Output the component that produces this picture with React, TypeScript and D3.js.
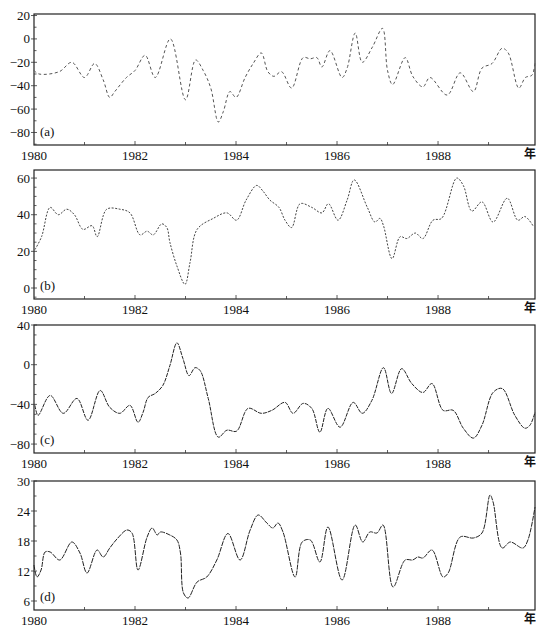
import * as d3 from 'd3';
import { useEffect, useRef } from 'react';

const W = 536;
const H = 627;
const SERIF = "'Liberation Serif', 'DejaVu Serif', serif";

const yearTicks = [1980, 1982, 1984, 1986, 1988];
const minorYears = [1981, 1983, 1985, 1987, 1989];

// (a)
const yearsA = [1980.0, 1980.1, 1980.5, 1980.75, 1981.0, 1981.2, 1981.37, 1981.5, 1981.6, 1981.83, 1982.0, 1982.2, 1982.4, 1982.7, 1983.0, 1983.2, 1983.35, 1983.5, 1983.65, 1983.75, 1983.88, 1984.0, 1984.18, 1984.34, 1984.5, 1984.63, 1984.75, 1984.9, 1985.1, 1985.33, 1985.47, 1985.6, 1985.7, 1985.86, 1986.1, 1986.2, 1986.36, 1986.5, 1986.7, 1986.9, 1987.0, 1987.1, 1987.35, 1987.5, 1987.7, 1987.84, 1988.18, 1988.44, 1988.7, 1988.87, 1989.07, 1989.27, 1989.39, 1989.6, 1989.73, 1989.86, 1989.92];
const valuesA = [-27, -30, -28, -20, -33, -21, -35, -50, -45, -33, -27, -14, -33, 0, -52, -18, -27, -42, -71, -62, -45, -50, -33, -21, -12, -28, -32, -28, -42, -16, -17, -16, -24, -10, -33, -25, 5, -20, -7, 9, -27, -39, -16, -32, -41, -33, -48, -29, -45, -25, -21, -8, -12, -42, -33, -31, -20];
const ticksA = [20, 0, -20, -40, -60, -80];

// (b)
const yearsB = [1980.02, 1980.15, 1980.32, 1980.48, 1980.65, 1980.8, 1980.97, 1981.15, 1981.25, 1981.44, 1981.7, 1981.9, 1982.1, 1982.24, 1982.36, 1982.53, 1982.63, 1982.69, 1982.83, 1982.99, 1983.09, 1983.23, 1983.55, 1983.82, 1984.01, 1984.2, 1984.41, 1984.53, 1984.67, 1984.85, 1984.97, 1985.1, 1985.27, 1985.5, 1985.7, 1985.83, 1986.02, 1986.2, 1986.34, 1986.6, 1986.75, 1986.85, 1986.92, 1987.09, 1987.25, 1987.38, 1987.55, 1987.7, 1987.9, 1988.07, 1988.37, 1988.5, 1988.67, 1988.87, 1989.09, 1989.37, 1989.58, 1989.72, 1989.88];
const valuesB = [21, 28, 44, 40, 43, 40, 32, 34, 28, 43, 43, 41, 29, 31, 29, 35, 33, 25, 12, 2, 14, 32, 38, 41, 37, 48, 56, 53, 48, 44, 37, 33, 46, 44, 41, 46, 37, 48, 59, 44, 36, 38, 34, 16, 28, 27, 30, 27, 37, 38, 60, 56, 42, 47, 36, 49, 37, 39, 34];
const ticksB = [60, 40, 20, 0];

// (c)
const yearsC = [1980.02, 1980.08, 1980.32, 1980.58, 1980.85, 1981.07, 1981.31, 1981.5, 1981.7, 1981.9, 1982.06, 1982.16, 1982.26, 1982.4, 1982.55, 1982.69, 1982.83, 1982.95, 1983.07, 1983.19, 1983.29, 1983.45, 1983.65, 1983.82, 1984.01, 1984.24, 1984.5, 1984.71, 1984.97, 1985.13, 1985.33, 1985.5, 1985.66, 1985.82, 1986.06, 1986.32, 1986.5, 1986.69, 1986.92, 1987.08, 1987.28, 1987.48, 1987.7, 1987.88, 1988.1, 1988.3, 1988.5, 1988.7, 1988.87, 1989.09, 1989.27, 1989.52, 1989.72, 1989.82, 1989.92];
const valuesC = [-41, -51, -31, -49, -34, -56, -26, -43, -49, -41, -58, -48, -33, -29, -21, -1, 22, 6, -11, -3, -6, -34, -73, -66, -67, -44, -49, -46, -38, -49, -39, -44, -68, -44, -63, -38, -49, -36, -3, -29, -4, -19, -28, -19, -46, -46, -64, -74, -61, -28, -24, -51, -64, -61, -48];
const ticksC = [40, 0, -40, -80];

// (d)
const yearsD = [1980.0, 1980.06, 1980.14, 1980.22, 1980.32, 1980.51, 1980.75, 1980.91, 1981.05, 1981.25, 1981.37, 1981.5, 1981.66, 1981.84, 1981.94, 1982.06, 1982.24, 1982.34, 1982.44, 1982.5, 1982.69, 1982.83, 1982.9, 1982.96, 1983.05, 1983.23, 1983.42, 1983.62, 1983.84, 1984.08, 1984.28, 1984.44, 1984.61, 1984.73, 1984.83, 1984.93, 1985.17, 1985.31, 1985.47, 1985.66, 1985.82, 1986.1, 1986.36, 1986.51, 1986.65, 1986.79, 1986.91, 1987.11, 1987.35, 1987.5, 1987.6, 1987.7, 1987.88, 1988.1, 1988.2, 1988.44, 1988.7, 1988.87, 1989.03, 1989.09, 1989.27, 1989.43, 1989.68, 1989.78, 1989.92];
const valuesD = [13.2, 10.8, 12.2, 15.8, 15.8, 14.2, 17.8, 15.6, 11.6, 16.2, 14.8, 16.6, 18.6, 20.2, 19.6, 12.2, 18.8, 20.6, 19.2, 19.8, 19.2, 18.2, 15.6, 7.6, 6.6, 9.8, 10.8, 14.2, 19.5, 14.2, 20.2, 23.2, 21.6, 20.6, 21.6, 19.8, 10.8, 17.8, 18.2, 13.8, 20.8, 10.2, 21.2, 17.8, 19.8, 19.6, 21.2, 8.8, 14.2, 14.2, 14.8, 14.6, 16.2, 10.8, 11.6, 18.8, 18.6, 19.6, 27.2, 25.8, 16.6, 17.8, 16.6, 18.2, 24.8];
const ticksD = [30, 24, 18, 12, 6];

const panelLabels = ['(a)', '(b)', '(c)', '(d)'];

const App = () => {
  const ref = useRef(null);

  useEffect(() => {
    const svg = d3.select(ref.current);
    svg.selectAll('*').remove();

    const left = 34;
    const right = 535;
    const x = d3.scaleLinear().domain([1980, 1989.92]).range([left, right]);

    const panels = [
      { years: yearsA, values: valuesA, ticks: ticksA, minor: 10, domain: [-90.7, 21.3], top: 14, bottom: 145, dash: '3,2.5', color: '#555' },
      { years: yearsB, values: valuesB, ticks: ticksB, minor: 5, domain: [-6, 64.4], top: 170, bottom: 299, dash: '2,1.5', color: '#444' },
      { years: yearsC, values: valuesC, ticks: ticksC, minor: 10, domain: [-89, 40], top: 325, bottom: 453, dash: '4,1', color: '#222' },
      { years: yearsD, values: valuesD, ticks: ticksD, minor: 3, domain: [4.2, 30], top: 481, bottom: 610, dash: '5,1', color: '#222' },
    ];

    panels.forEach((p, i) => {
      const y = d3.scaleLinear().domain(p.domain).range([p.bottom, p.top]);
      const g = svg.append('g');

      // frame
      g.append('rect')
        .attr('x', left)
        .attr('y', p.top)
        .attr('width', right - left)
        .attr('height', p.bottom - p.top)
        .attr('fill', 'none')
        .attr('stroke', '#222')
        .attr('stroke-width', 1.2);

      // y axis ticks
      const yMinor = d3.range(Math.ceil(p.domain[0]), Math.floor(p.domain[1]) + 1)
        .filter(v => v % p.minor === 0 && !p.ticks.includes(v));
      g.selectAll('.ymin').data(yMinor).enter().append('line')
        .attr('x1', left).attr('x2', left + 2.5)
        .attr('y1', d => y(d)).attr('y2', d => y(d))
        .attr('stroke', '#333').attr('stroke-width', 0.8);
      g.selectAll('.ymaj').data(p.ticks).enter().append('line')
        .attr('x1', left - 3).attr('x2', left + 3)
        .attr('y1', d => y(d)).attr('y2', d => y(d))
        .attr('stroke', '#333').attr('stroke-width', 0.8);
      g.selectAll('.ylab').data(p.ticks).enter().append('text')
        .attr('x', left - 4)
        .attr('y', d => y(d))
        .attr('dy', '0.35em')
        .attr('text-anchor', 'end')
        .style('font-family', SERIF)
        .style('font-size', '13px')
        .attr('fill', '#111')
        .text(d => (d < 0 ? '\u2212' + Math.abs(d) : String(d)));

      // x axis ticks
      g.selectAll('.xmaj').data(yearTicks.slice(1)).enter().append('line')
        .attr('x1', d => x(d)).attr('x2', d => x(d))
        .attr('y1', p.bottom).attr('y2', p.bottom - 4)
        .attr('stroke', '#333').attr('stroke-width', 0.8);
      g.selectAll('.xmin').data(minorYears).enter().append('line')
        .attr('x1', d => x(d)).attr('x2', d => x(d))
        .attr('y1', p.bottom).attr('y2', p.bottom - 3)
        .attr('stroke', '#333').attr('stroke-width', 0.8);
      g.selectAll('.xlab').data(yearTicks).enter().append('text')
        .attr('x', d => x(d))
        .attr('y', p.bottom + 15)
        .attr('text-anchor', 'middle')
        .style('font-family', SERIF)
        .style('font-size', '13px')
        .attr('fill', '#111')
        .text(d => d);
      g.append('text')
        .attr('x', 530)
        .attr('y', p.bottom + 13)
        .attr('text-anchor', 'middle')
        .style('font-family', "'Noto Sans CJK SC', sans-serif")
        .style('font-size', '12px')
        .style('font-weight', 'bold')
        .attr('fill', '#111')
        .text('年');

      // panel label
      g.append('text')
        .attr('x', left + 6)
        .attr('y', p.bottom - 9)
        .style('font-family', SERIF)
        .style('font-size', '13px')
        .attr('fill', '#111')
        .text(panelLabels[i]);

      // series
      const pts = p.years.map((yr, k) => [yr, p.values[k]]);
      const line = d3.line()
        .x(d => x(d[0]))
        .y(d => y(d[1]))
        .curve(d3.curveCatmullRom.alpha(0.5));
      g.append('path')
        .attr('d', line(pts))
        .attr('fill', 'none')
        .attr('stroke', p.color)
        .attr('stroke-width', 1)
        .attr('stroke-dasharray', p.dash);
    });
  }, []);

  return (
    <svg ref={ref} width={W} height={H} style={{ position: 'absolute', left: 0, top: 0, background: '#fff', fontFamily: SERIF }}></svg>
  );
};

export default App;
